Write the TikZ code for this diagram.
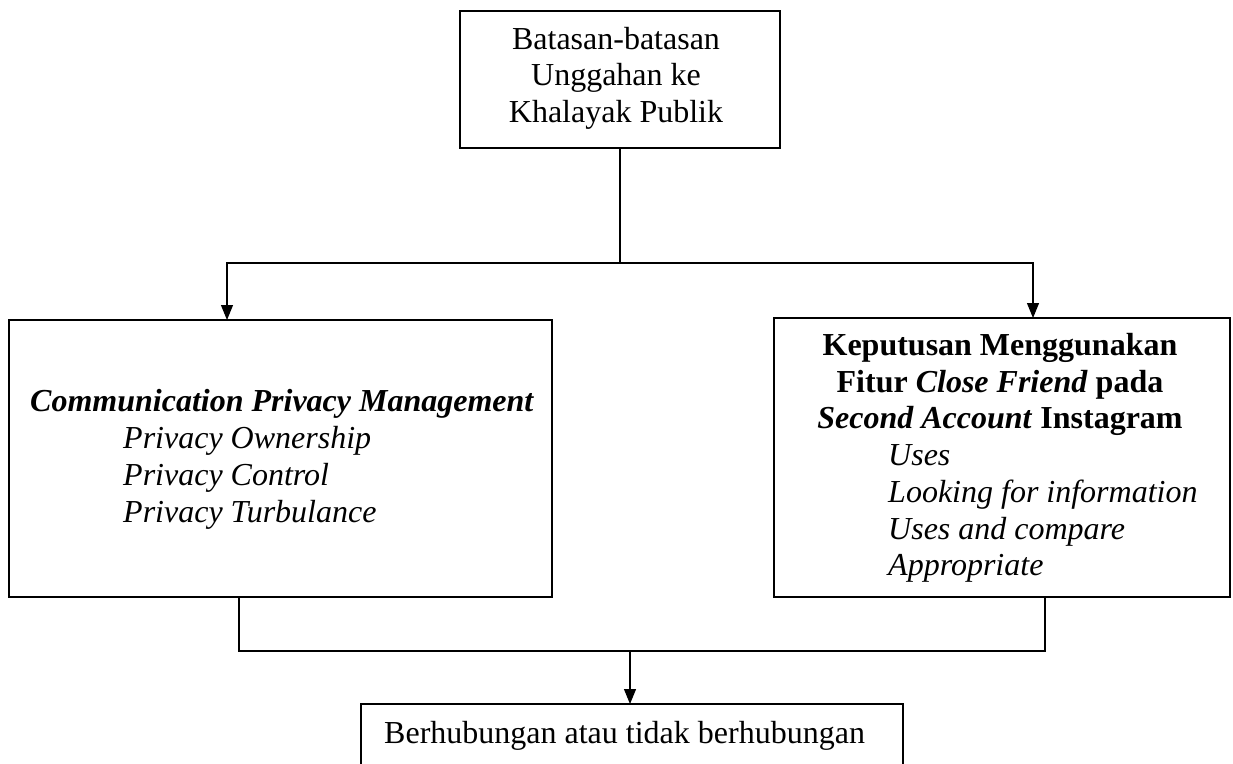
\documentclass[tikz,border=0pt]{standalone}
\usepackage{fontspec}
\setmainfont{Liberation Serif}
\usetikzlibrary{arrows.meta}
\begin{document}
\begin{tikzpicture}[x=1pt,y=-1pt,
  box/.style={draw, line width=2pt, inner sep=0pt, outer sep=0pt, anchor=north west},
  txt/.style={inner sep=0pt, font=\fontsize{32}{37}\selectfont},
  conn/.style={line width=1.1pt},
  arr/.style={conn, -{Triangle[length=15pt,width=12pt]}}]
\clip (0,0) rectangle (1233,763);
% boxes
\node[box, minimum width=320pt, minimum height=137pt] (top) at (460,11) {};
\node[box, minimum width=543pt, minimum height=277pt] (cpm) at (9,320) {};
\node[box, minimum width=456pt, minimum height=279pt] (kep) at (774,318) {};
\node[box, minimum width=542pt, minimum height=100pt] (res) at (361,704) {};
% top text
\node[txt, anchor=base] (t1) at (616,49) {Batasan-batasan};
\node[txt, anchor=base] (t2) at (616,85) {Unggahan ke};
\node[txt, anchor=base] (t3) at (616,122) {Khalayak Publik};
% left text
\node[txt, anchor=base west] (c0) at (30,411) {\textbf{\textit{Communication Privacy Management}}};
\node[txt, anchor=base west] (c1) at (123,448) {\textit{Privacy Ownership}};
\node[txt, anchor=base west] (c2) at (123,485) {\textit{Privacy Control}};
\node[txt, anchor=base west] (c3) at (123,522) {\textit{Privacy Turbulance}};
% right text
\node[txt, anchor=base] (k0) at (1000,355) {\textbf{Keputusan Menggunakan}};
\node[txt, anchor=base] (k1) at (1000,392) {\textbf{Fitur \textit{Close Friend} pada}};
\node[txt, anchor=base] (k2) at (1000,428) {\textbf{\textit{Second Account} Instagram}};
\node[txt, anchor=base west] (k3) at (888,465) {\textit{Uses}};
\node[txt, anchor=base west] (k4) at (888,502) {\textit{Looking for information}};
\node[txt, anchor=base west] (k5) at (888,539) {\textit{Uses and compare}};
\node[txt, anchor=base west] (k6) at (888,575) {\textit{Appropriate}};
% bottom text
\node[txt, anchor=base west] (r0) at (384,743) {Berhubungan atau tidak berhubungan};
% connectors
\coordinate (j1) at (620,263);
\draw[conn] (top.south) -- (j1);
\draw[arr] (j1) -| ([xshift=218pt]cpm.north west);
\draw[arr] (j1) -| ([xshift=259pt]kep.north west);
\coordinate (bl) at (239,651);
\coordinate (br) at (1045,651);
\coordinate (j2) at (630,651);
\draw[conn] ([xshift=230pt]cpm.south west) -- (bl) -- (br) -- ([xshift=271pt]kep.south west);
\draw[arr] (j2) -- (j2 |- res.north);
\end{tikzpicture}
\end{document}
